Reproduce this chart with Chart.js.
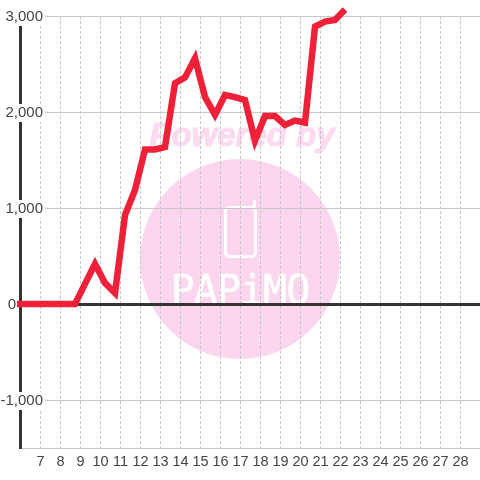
<!DOCTYPE html>
<html>
<head>
  <meta charset="UTF-8" />
  <title>Chart</title>
  <script src="https://cdn.jsdelivr.net/npm/chart.js"></script>
  <style>
    html, body { margin: 0; padding: 0; background: #fff; }
    canvas { display: block; }
  </style>
</head>
<body>
<canvas id="chart" width="480" height="480"></canvas>

<script>
  const days = [5.75, 6.25, 6.75, 7.25, 7.75, 8.25, 8.75, 9.25, 9.75, 10.25, 10.75, 11.25, 11.75, 12.25, 12.75, 13.25, 13.75, 14.25, 14.75, 15.25, 15.75, 16.25, 16.75, 17.25, 17.75, 18.25, 18.75, 19.25, 19.75, 20.25, 20.75, 21.25, 21.75, 22.25];
  const values = [0, 0, 0, 0, 0, 0, 0, 210, 417, 219, 115, 927, 1187, 1610, 1610, 1635, 2300, 2360, 2560, 2155, 1970, 2177, 2155, 2125, 1700, 1958, 1958, 1865, 1910, 1890, 2890, 2942, 2958, 3068];
  const xTicks = [7, 8, 9, 10, 11, 12, 13, 14, 15, 16, 17, 18, 19, 20, 21, 22, 23, 24, 25, 26, 27, 28];
  const yTicks = [-1500, -1000, -500, 0, 500, 1000, 1500, 2000, 2500, 3000];

  // watermark sits under the grid lines
  const watermark = {
    id: 'watermark',
    beforeDraw(chart) {
      const ctx = chart.ctx;
      ctx.save();
      ctx.fillStyle = '#fbd6ee';
      ctx.beginPath();
      ctx.arc(240, 259, 100, 0, Math.PI * 2);
      ctx.fill();

      ctx.fillStyle = '#fcdaf0';
      ctx.strokeStyle = '#fcdaf0';
      ctx.lineWidth = 1;
      ctx.font = 'italic bold 33px "Liberation Sans"';
      ctx.textAlign = 'center';
      ctx.textBaseline = 'alphabetic';
      ctx.fillText('Powered by', 242, 146);
      ctx.strokeText('Powered by', 242, 146);

      ctx.strokeStyle = '#fff';
      ctx.lineWidth = 3;
      ctx.lineCap = 'round';
      ctx.beginPath();
      ctx.roundRect(225.5, 207.5, 30, 49, 4);
      ctx.moveTo(254.5, 201);
      ctx.lineTo(254.5, 210);
      ctx.stroke();

      ctx.fillStyle = '#fff';
      ctx.font = '40px "DejaVu Sans Mono"';
      ctx.letterSpacing = '-1px';
      ctx.lineWidth = 0.4;
      ctx.fillText('PAPiMO', 240, 304);
      ctx.strokeText('PAPiMO', 240, 304);
      ctx.restore();
    }
  };

  // the zero label sits left of the axis line, not with the other labels
  const zeroLabel = {
    id: 'zeroLabel',
    afterDraw(chart) {
      const ctx = chart.ctx;
      ctx.save();
      ctx.fillStyle = '#444';
      ctx.font = '15px "Liberation Sans"';
      ctx.textAlign = 'right';
      ctx.textBaseline = 'middle';
      ctx.fillText('0', 16, chart.scales.y.getPixelForValue(0) + 1);
      ctx.restore();
    }
  };

  new Chart(document.getElementById('chart'), {
    type: 'line',
    data: {
      datasets: [{
        data: days.map((d, i) => ({ x: d, y: values[i] })),
        borderColor: '#f02038',
        borderWidth: 6.5,
        borderCapStyle: 'butt',
        borderJoinStyle: 'miter',
        pointRadius: 0,
        tension: 0,
        clip: { left: 3, top: 9, right: 0, bottom: 0 }
      }]
    },
    options: {
      responsive: false,
      animation: false,
      layout: { padding: { top: 16, right: 0, left: 0, bottom: 0 } },
      plugins: { legend: { display: false }, tooltip: { enabled: false } },
      scales: {
        x: {
          type: 'linear',
          min: 6,
          max: 29,
          afterBuildTicks(scale) { scale.ticks = xTicks.map(v => ({ value: v })); },
          afterFit(scale) { scale.height = 32; },
          grid: { color: '#c8c8c8', lineWidth: 1, drawTicks: false },
          border: { color: '#c8c8c8', width: 1, dash: [3, 2] },
          ticks: {
            color: '#444',
            font: { family: '"Liberation Sans"', size: 14.5 },
            padding: 5,
            labelOffset: 0.5,
            maxRotation: 0,
            autoSkip: false,
            callback: v => String(v)
          }
        },
        y: {
          min: -1500,
          max: 3000,
          afterBuildTicks(scale) { scale.ticks = yTicks.map(v => ({ value: v })); },
          afterFit(scale) { scale.width = 20; },
          grid: {
            color: c => c.tick && c.tick.value === 0 ? '#333' : '#c8c8c8',
            lineWidth: c => c.tick && c.tick.value === 0 ? 3 : 1,
            drawTicks: false
          },
          border: { color: '#333', width: 3 },
          ticks: {
            color: c => c.tick && c.tick.value === 0 ? 'rgba(0,0,0,0)' : '#444',
            font: { family: '"Liberation Sans"', size: 15 },
            mirror: true,
            crossAlign: 'far',
            padding: -19.5,
            labelOffset: 1,
            showLabelBackdrop: true,
            backdropColor: c => c.tick && c.tick.value === 0 ? 'rgba(0,0,0,0)' : '#fff',
            backdropPadding: { top: 0, bottom: 0, left: 1, right: 2 },
            callback: v => v === -1500 || v % 1000 !== 0 ? null : v.toLocaleString('en-US')
          }
        }
      }
    },
    plugins: [watermark, zeroLabel]
  });
</script>
</body>
</html>
